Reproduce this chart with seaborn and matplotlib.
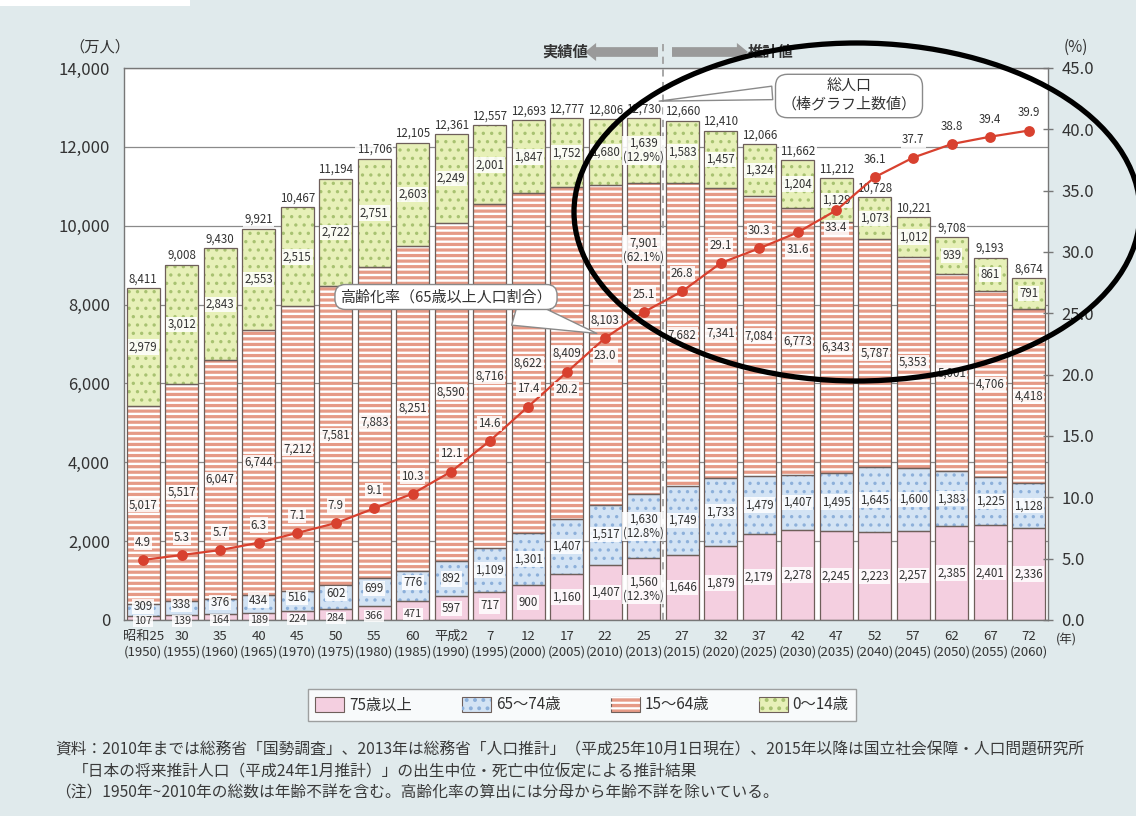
import numpy as np
import pandas as pd
import matplotlib
matplotlib.use("Agg")
import matplotlib.pyplot as plt
import seaborn as sns
from matplotlib.patches import Patch, Ellipse, Rectangle
from matplotlib.ticker import FuncFormatter, MultipleLocator
from matplotlib.legend_handler import HandlerTuple

# ---- data (万人 / %) ----
era_labels = ["昭和25", "30", "35", "40", "45", "50", "55", "60", "平成2", "7", "12", "17",
              "22", "25", "27", "32", "37", "42", "47", "52", "57", "62", "67", "72"]
years = [1950, 1955, 1960, 1965, 1970, 1975, 1980, 1985, 1990, 1995, 2000, 2005,
         2010, 2013, 2015, 2020, 2025, 2030, 2035, 2040, 2045, 2050, 2055, 2060]
age_75_plus = [107, 139, 164, 189, 224, 284, 366, 471, 597, 717, 900, 1160,
               1407, 1560, 1646, 1879, 2179, 2278, 2245, 2223, 2257, 2385, 2401, 2336]
age_65_74 = [309, 338, 376, 434, 516, 602, 699, 776, 892, 1109, 1301, 1407,
             1517, 1630, 1749, 1733, 1479, 1407, 1495, 1645, 1600, 1383, 1225, 1128]
age_15_64 = [5017, 5517, 6047, 6744, 7212, 7581, 7883, 8251, 8590, 8716, 8622, 8409,
             8103, 7901, 7682, 7341, 7084, 6773, 6343, 5787, 5353, 5001, 4706, 4418]
age_0_14 = [2979, 3012, 2843, 2553, 2515, 2722, 2751, 2603, 2249, 2001, 1847, 1752,
            1680, 1639, 1583, 1457, 1324, 1204, 1129, 1073, 1012, 939, 861, 791]
total_pop = [8411, 9008, 9430, 9921, 10467, 11194, 11706, 12105, 12361, 12557, 12693, 12777,
             12806, 12730, 12660, 12410, 12066, 11662, 11212, 10728, 10221, 9708, 9193, 8674]
aging_rate = [4.9, 5.3, 5.7, 6.3, 7.1, 7.9, 9.1, 10.3, 12.1, 14.6, 17.4, 20.2,
              23.0, 25.1, 26.8, 29.1, 30.3, 31.6, 33.4, 36.1, 37.7, 38.8, 39.4, 39.9]
# 2013 composition shares (%): 75+, 65-74, 15-64, 0-14
share_2013 = [12.3, 12.8, 62.1, 12.9]
idx_2013 = 13

# ---- styling ----
BG = "#e0eaec"
PINK = "#f4cfe0"
BLUE, BLUE_DOT = "#d3e3f4", "#8db0da"
SALMON = "#e69a86"
GREEN, GREEN_DOT = "#e7f0b8", "#a8c271"
OUTLINE = "#6e5f5a"
RED = "#d8412f"
TXT = "#333333"
W = 0.86

sns.set_theme(style="white")
plt.rcParams["font.family"] = ["Noto Sans CJK JP", "DejaVu Sans"]
plt.rcParams["hatch.linewidth"] = 1.6

FW, FH = 1136, 816
fig = plt.figure(figsize=(FW / 100, FH / 100), dpi=100, facecolor=BG)


def fx(px):
    return px / FW


def fy(py):
    return 1 - py / FH


ax = fig.add_axes([fx(124), fy(620), fx(1048) - fx(124), fy(68) - fy(620)])
ax.set_facecolor("white")

xlabels = [f"{e}\n({y})" for e, y in zip(era_labels, years)]
c1 = np.array(age_75_plus)
c2 = c1 + np.array(age_65_74)
c3 = c2 + np.array(age_15_64)
c4 = c3 + np.array(age_0_14)
df = pd.DataFrame({"label": xlabels, "c1": c1, "c2": c2, "c3": c3, "c4": c4})

# stacked fills drawn from the tallest cumulative layer downwards
for col, color in [("c4", GREEN), ("c3", SALMON), ("c2", BLUE), ("c1", PINK)]:
    sns.barplot(data=df, x="label", y=col, color=color, saturation=1, width=W,
                errorbar=None, linewidth=0, edgecolor="none", ax=ax, zorder=2)

x = np.arange(len(xlabels))
# pattern overlays
with plt.rc_context({"hatch.linewidth": 1.2}):
    ax.bar(x, age_0_14, bottom=c3, width=W, fill=False, hatch="..", edgecolor=GREEN_DOT,
           linewidth=0, zorder=3)
    ax.bar(x, age_65_74, bottom=c1, width=W, fill=False, hatch="..", edgecolor=BLUE_DOT,
           linewidth=0, zorder=3)
with plt.rc_context({"hatch.linewidth": 1.7}):
    ax.bar(x, age_15_64, bottom=c2, width=W, fill=False, hatch="---", edgecolor="white",
           linewidth=0, zorder=3)
# segment outlines
for seg, bot in [(age_75_plus, 0), (age_65_74, c1), (age_15_64, c2), (age_0_14, c3)]:
    ax.bar(x, seg, bottom=bot, width=W, fill=False, edgecolor=OUTLINE, linewidth=0.9, zorder=4)

ax.set_xlim(-0.5, len(xlabels) - 0.5)
ax.set_ylim(0, 14000)
ax.yaxis.set_major_locator(MultipleLocator(2000))
ax.yaxis.set_major_formatter(FuncFormatter(lambda v, p: f"{int(v):,}"))
ax.set_xlabel("")
ax.set_ylabel("")
ax.grid(axis="y", color="#8a8a8a", linewidth=0.9)
ax.grid(axis="x", visible=False)
ax.set_axisbelow(True)
for s in ax.spines.values():
    s.set_color("#777777")
    s.set_linewidth(1.0)
ax.tick_params(axis="y", length=0, pad=10, labelsize=12, labelcolor=TXT)
ax.tick_params(axis="x", length=0, pad=7, labelsize=9.5, labelcolor=TXT)
ax.set_xticks(x)
ax.set_xticklabels(xlabels, linespacing=1.25)

lbl_box = dict(boxstyle="square,pad=0.1", fc="white", ec="none", alpha=0.85)
VFS = 8.3

# 15-64 labels sit mid-segment, except where they would meet the rate line
working_label_lift = {12: 630, 13: 2240}

for i in x:
    ax.annotate(f"{total_pop[i]:,}", (i, c4[i]), xytext=(0, 2), textcoords="offset points",
                ha="center", va="bottom", fontsize=VFS, color=TXT, bbox=lbl_box, zorder=6)
    special = i == idx_2013
    t14 = f"{age_0_14[i]:,}" + (f"\n({share_2013[3]}%)" if special else "")
    t1564 = f"{age_15_64[i]:,}" + (f"\n({share_2013[2]}%)" if special else "")
    t6574 = f"{age_65_74[i]:,}" + (f"\n({share_2013[1]}%)" if special else "")
    t75 = f"{age_75_plus[i]:,}" + (f"\n({share_2013[0]}%)" if special else "")
    kw = dict(ha="center", va="center", fontsize=VFS, color=TXT, bbox=lbl_box, zorder=6,
              linespacing=1.1, textcoords="offset points")
    ax.annotate(t14, (i, c3[i] + age_0_14[i] / 2), xytext=(0, 0), **kw)
    ax.annotate(t1564, (i, c2[i] + age_15_64[i] / 2 + working_label_lift.get(i, 0)),
                xytext=(0, 0), **kw)
    small = age_75_plus[i] < 500
    ax.annotate(t6574, (i, c1[i] + age_65_74[i] / 2), xytext=(0, 2.5 if small else 0), **kw)
    ax.annotate(t75, (i, age_75_plus[i] / 2), xytext=(0, -2.5 if small else 0),
                **{**kw, "fontsize": VFS - 0.5 if small else VFS})

# boundary between actual and projected values
ax.axvline(13.5, ymin=0, ymax=1 + 28 / 552, color="#a0a0a0", linestyle=(0, (4, 3)),
           linewidth=1.3, clip_on=False, zorder=5)

# ---- aging rate line on secondary axis ----
ax2 = ax.twinx()
line_df = pd.DataFrame({"pos": x, "rate": aging_rate})
sns.lineplot(data=line_df, x="pos", y="rate", ax=ax2, color=RED, linewidth=1.6,
             marker="o", markersize=7.8, markeredgewidth=0, zorder=5)
ax2.set_ylim(0, 45)
ax2.set_xlim(-0.5, len(xlabels) - 0.5)
ax2.set_xlabel("")
ax2.set_ylabel("")
ax2.yaxis.set_major_locator(MultipleLocator(5))
ax2.yaxis.set_major_formatter(FuncFormatter(lambda v, p: f"{v:.1f}"))
ax2.tick_params(axis="y", direction="inout", length=7, width=1, color="#777777",
                pad=6, labelsize=12, labelcolor=TXT)
ax2.grid(False)
for s in ax2.spines.values():
    s.set_visible(False)

below = {11, 12, 17, 18}
for i, r in zip(x, aging_rate):
    if i in below:
        ax2.annotate(f"{r:.1f}", (i, r), xytext=(0, -8), textcoords="offset points",
                     ha="center", va="top", fontsize=VFS, color=TXT, bbox=lbl_box, zorder=7)
    else:
        ax2.annotate(f"{r:.1f}", (i, r), xytext=(0, 8), textcoords="offset points",
                     ha="center", va="bottom", fontsize=VFS, color=TXT, bbox=lbl_box, zorder=7)

# callouts
ax2.annotate("高齢化率（65歳以上人口割合）", xy=(11.85, 23.3), xycoords="data",
             xytext=(fx(446), fy(297)), textcoords="figure fraction",
             ha="center", va="center", fontsize=10.8, color=TXT, zorder=8,
             bbox=dict(boxstyle="round,pad=0.35,rounding_size=0.7", fc="white", ec="#8a8a8a", lw=1),
             arrowprops=dict(arrowstyle="wedge,tail_width=2.0,shrink_factor=0.5", fc="white",
                             ec="#8a8a8a", lw=1, relpos=(0.72, 0.0), shrinkB=2))
ax2.annotate("総人口\n（棒グラフ上数値）", xy=(13.4, 42.3), xycoords="data",
             xytext=(fx(849), fy(96)), textcoords="figure fraction",
             ha="center", va="center", fontsize=10.8, color=TXT, zorder=8, linespacing=1.25,
             bbox=dict(boxstyle="round,pad=0.4,rounding_size=0.8", fc="white", ec="#8a8a8a", lw=1),
             arrowprops=dict(arrowstyle="wedge,tail_width=0.9,shrink_factor=0.5", fc="white",
                             ec="#8a8a8a", lw=1, relpos=(0.0, 0.62), shrinkB=0))

# axis captions
fig.text(fx(100), fy(47), "（万人）", ha="center", va="center", fontsize=11, color=TXT)
fig.text(fx(1076), fy(47), "(%)", ha="center", va="center", fontsize=11, color=TXT)
fig.text(fx(1066), fy(640), "(年)", ha="center", va="center", fontsize=9, color=TXT)

# actual / projected header
fig.text(fx(565), fy(52), "実績値", ha="center", va="center", fontsize=11, color="#333333",
         fontweight="bold")
fig.text(fx(771), fy(52), "推計値", ha="center", va="center", fontsize=11, color="#333333",
         fontweight="bold")
arrow_style = "simple,head_length=0.8,head_width=1.3,tail_width=0.7"
ax.annotate("", xy=(585, FH - 52), xycoords="figure pixels", xytext=(658, FH - 52),
            textcoords="figure pixels", annotation_clip=False,
            arrowprops=dict(arrowstyle=arrow_style, fc="#9a9a9a", ec="none", mutation_scale=10,
                            shrinkA=0, shrinkB=0))
ax.annotate("", xy=(748, FH - 52), xycoords="figure pixels", xytext=(672, FH - 52),
            textcoords="figure pixels", annotation_clip=False,
            arrowprops=dict(arrowstyle=arrow_style, fc="#9a9a9a", ec="none", mutation_scale=10,
                            shrinkA=0, shrinkB=0))

# legend
handles = [
    (Patch(fc=PINK, ec=OUTLINE, lw=0.8),),
    (Patch(fc=BLUE, ec=OUTLINE, lw=0.8), Patch(fill=False, hatch="..", ec=BLUE_DOT, lw=0)),
    (Patch(fc=SALMON, ec=OUTLINE, lw=0.8), Patch(fill=False, hatch="---", ec="white", lw=0)),
    (Patch(fc=GREEN, ec=OUTLINE, lw=0.8), Patch(fill=False, hatch="..", ec=GREEN_DOT, lw=0)),
]
leg = fig.legend(handles, ["75歳以上", "65～74歳", "15～64歳", "0～14歳"],
                 handler_map={tuple: HandlerTuple(ndivide=1)},
                 loc="center", bbox_to_anchor=(fx(582), fy(705)), ncol=4, fontsize=11,
                 frameon=True, fancybox=False, edgecolor="#8a8a8a", handlelength=1.9,
                 handleheight=1.1, handletextpad=0.3, columnspacing=3.3, borderpad=0.5)
leg.get_frame().set_linewidth(1.0)
for t in leg.get_texts():
    t.set_color(TXT)

# source notes
notes = [
    (55, 750, "資料：2010年までは総務省「国勢調査」、2013年は総務省「人口推計」（平成25年10月1日現在）、2015年以降は国立社会保障・人口問題研究所"),
    (73, 772, "「日本の将来推計人口（平成24年1月推計）」の出生中位・死亡中位仮定による推計結果"),
    (55, 793, "（注）1950年~2010年の総数は年齢不詳を含む。高齢化率の算出には分母から年齢不詳を除いている。"),
]
for px, py, t in notes:
    fig.text(fx(px), fy(py), t, ha="left", va="center", fontsize=11.3, color="#3a3a3a")

# page edge strip
fig.add_artist(Rectangle((0, fy(6)), fx(190), fy(0) - fy(6), transform=fig.transFigure,
                         fc="white", ec="none", zorder=0))

# hand-drawn highlight ring
fig.add_artist(Ellipse((fx(857), fy(212)), fx(566), 338 / FH, transform=fig.transFigure,
                       fill=False, ec="black", lw=3.8, zorder=20))

fig.savefig("out.png", dpi=100, facecolor=BG)
